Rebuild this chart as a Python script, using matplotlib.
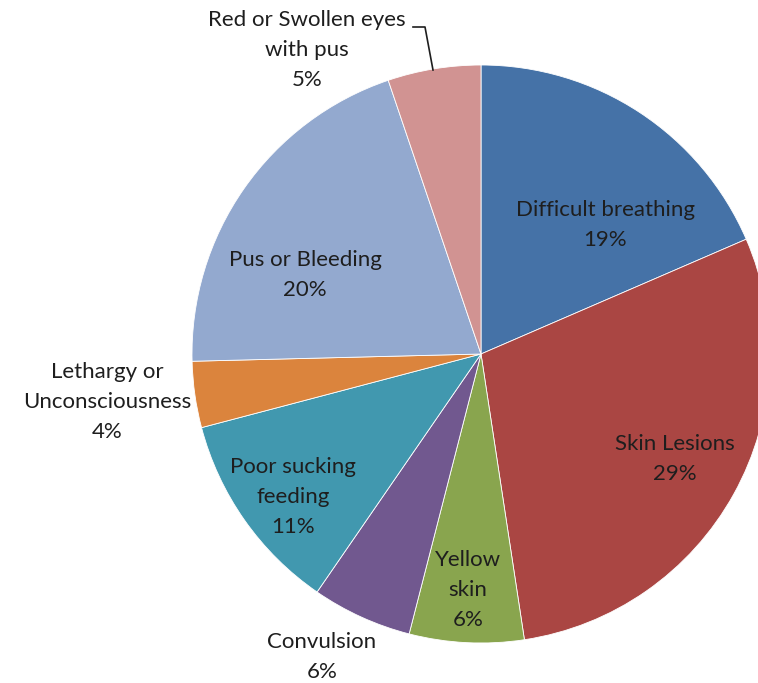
import matplotlib.pyplot as plt

# data (clockwise from 12 o'clock); shares
labels = ['Difficult breathing', 'Skin Lesions', 'Yellow\nskin', 'Convulsion',
          'Poor sucking\nfeeding', 'Lethargy or\nUnconsciousness',
          'Pus or Bleeding', 'Red or Swollen eyes\nwith pus']
values = [18.5, 29.1, 6.4, 5.6, 11.3, 3.7, 20.2, 5.2]
pct_labels = ['19%', '29%', '6%', '6%', '11%', '4%', '20%', '5%']
colors = ['#4572A7', '#AA4643', '#89A54E', '#71588F',
          '#4198AF', '#DB843D', '#93A9CF', '#D19392']

# label centre positions in pixels (image coords, y down)
label_pos = [(605, 225), (675, 459), (468, 590), (322, 657),
             (293, 497), (107, 402), (305, 275), (307, 50)]

W, H = 758, 683
fig = plt.figure(figsize=(W / 100, H / 100), dpi=100)
ax = fig.add_axes([0, 0, 1, 1])

ax.pie(values, colors=colors, startangle=90, counterclock=False,
       center=(481, H - 354), radius=289, frame=True,
       wedgeprops=dict(edgecolor='white', linewidth=0.6))
ax.set_xlim(0, W)
ax.set_ylim(0, H)
ax.set_aspect('equal')
ax.axis('off')

for lab, pct, (x, y) in zip(labels, pct_labels, label_pos):
    ax.text(x, H - y, f'{lab}\n{pct}', ha='center', va='center',
            fontsize=16, family='Lato', color='#1e1e1e', linespacing=1.62)

# leader line for the small slice at the top
ax.plot([413, 425, 433], [H - 27, H - 27, H - 70], color='#1e1e1e', lw=1.2)

fig.savefig('out.png', dpi=100)
